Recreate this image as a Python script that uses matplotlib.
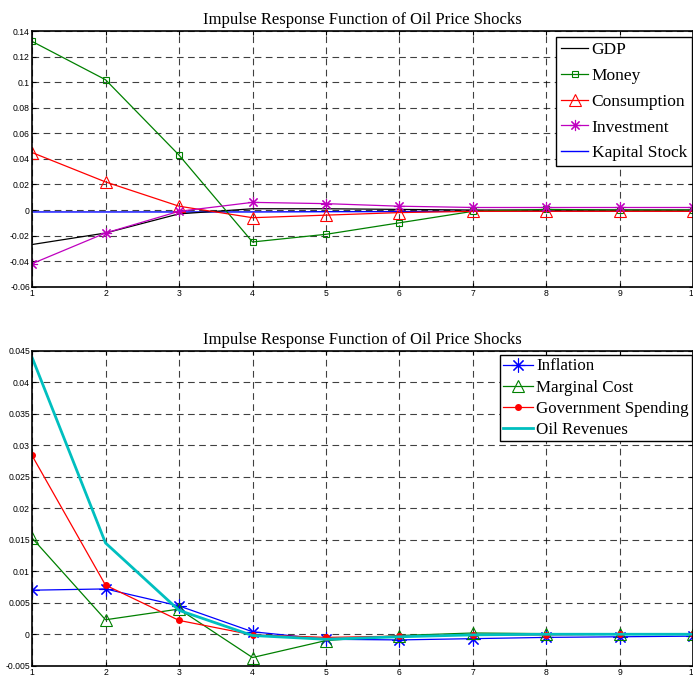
import matplotlib
matplotlib.use("Agg")
import matplotlib.pyplot as plt

periods = [1, 2, 3, 4, 5, 6, 7, 8, 9, 10]

gdp = [-0.027, -0.018, -0.003, 0.001, 0.001, 0.0005, 0.0, 0.0, 0.0, 0.0]
money = [0.132, 0.102, 0.043, -0.025, -0.019, -0.010, -0.001, 0.0005, 0.0, 0.0]
consumption = [0.045, 0.022, 0.003, -0.006, -0.004, -0.002, -0.001, -0.001, -0.001, -0.001]
investment = [-0.042, -0.018, -0.001, 0.006, 0.005, 0.003, 0.002, 0.002, 0.002, 0.002]
kapital = [-0.0015, -0.0015, -0.0015, -0.0015, -0.0013, -0.0012, -0.001, -0.001, -0.001, -0.001]

inflation = [0.007, 0.0072, 0.0045, 0.0004, -0.0008, -0.0009, -0.0007, -0.0005, -0.0004, -0.0003]
marginal_cost = [0.0153, 0.0023, 0.004, -0.0037, -0.001, -0.0002, 0.0002, 0.0001, 0.0001, 0.0]
gov_spending = [0.0284, 0.0078, 0.0022, -0.0001, -0.0005, -0.0003, -0.0001, -0.0001, 0.0, 0.0]
oil_revenues = [0.044, 0.0145, 0.0038, -0.0002, -0.0008, -0.0004, -0.0001, 0.0, 0.0, 0.0]

top_yticks = [-0.06, -0.04, -0.02, 0, 0.02, 0.04, 0.06, 0.08, 0.1, 0.12, 0.14]
top_ylabels = ["-0.06", "-0.04", "-0.02", "0", "0.02", "0.04", "0.06", "0.08", "0.1", "0.12", "0.14"]
bot_yticks = [-0.005, 0, 0.005, 0.01, 0.015, 0.02, 0.025, 0.03, 0.035, 0.04, 0.045]
bot_ylabels = ["-0.005", "0", "0.005", "0.01", "0.015", "0.02", "0.025", "0.03", "0.035", "0.04", "0.045"]
title = "Impulse Response Function of Oil Price Shocks"

serif = ["Liberation Serif", "DejaVu Serif"]
tickfont = ["Liberation Sans", "DejaVu Sans"]

fig = plt.figure(figsize=(6.93, 6.76), dpi=100)
ax1 = fig.add_axes([0.0462, 0.5759, 0.9545, 0.378])
ax2 = fig.add_axes([0.0462, 0.0152, 0.9545, 0.4656])

green = (0, 0.5, 0)
magenta = (0.75, 0, 0.75)
cyan = (0, 0.75, 0.75)

def style(ax, yticks, ylabels, ylim):
    ax.set_xlim(1, 10)
    ax.set_ylim(*ylim)
    ax.set_xticks(periods)
    ax.set_xticklabels([str(p) for p in periods], fontfamily=tickfont, fontsize=6.2)
    ax.set_yticks(yticks)
    ax.set_yticklabels(ylabels, fontfamily=tickfont, fontsize=6.2)
    ax.tick_params(direction="in", length=3, width=0.8, pad=1.5, top=True, right=True)
    ax.grid(True, color="black", linestyle=(0, (6, 4)), linewidth=0.8, alpha=0.75)
    for s in ax.spines.values():
        s.set_linewidth(1.2)
    ax.set_title(title, fontfamily=serif, fontsize=12, pad=5)

ax1.plot(periods, gdp, color="black", lw=0.9, label="GDP")
ax1.plot(periods, money, color=green, lw=0.9, marker="s", ms=5, mfc="none", mew=0.8, label="Money")
ax1.plot(periods, consumption, color="red", lw=0.9, marker="^", ms=8, mfc="none", mew=0.8, label="Consumption")
ax1.plot(periods, investment, color=magenta, lw=0.9, marker=(8, 2, 0), ms=8, mew=0.8, label="Investment")
ax1.plot(periods, kapital, color="blue", lw=1.0, label="Kapital Stock", zorder=1.2)
style(ax1, top_yticks, top_ylabels, (-0.06, 0.14))
leg1 = ax1.legend(loc="upper right", prop={"family": serif, "size": 12.5}, frameon=True, fancybox=False,
                  edgecolor="black", framealpha=1, borderpad=0.3, labelspacing=0.55, handlelength=1.55,
                  handletextpad=0.2, borderaxespad=0.0, bbox_to_anchor=(0.998, 0.977))
leg1.get_frame().set_linewidth(1.0)

ax2.plot(periods, inflation, color="blue", lw=0.9, marker=(8, 2, 0), ms=10, mew=0.8, label="Inflation")
ax2.plot(periods, marginal_cost, color=green, lw=0.9, marker="^", ms=8, mfc="none", mew=0.8, label="Marginal Cost")
ax2.plot(periods, gov_spending, color="red", lw=0.9, marker="o", ms=4, label="Government Spending")
ax2.plot(periods, oil_revenues, color=cyan, lw=2.0, label="Oil Revenues")
style(ax2, bot_yticks, bot_ylabels, (-0.005, 0.045))
leg2 = ax2.legend(loc="upper right", prop={"family": serif, "size": 12.2}, frameon=True, fancybox=False,
                  edgecolor="black", framealpha=1, borderpad=0.2, labelspacing=0.3, handlelength=1.75,
                  handletextpad=0.2, borderaxespad=0.0, bbox_to_anchor=(0.998, 0.987))
leg2.get_frame().set_linewidth(1.0)

fig.savefig("out.png", dpi=100, facecolor="white")
